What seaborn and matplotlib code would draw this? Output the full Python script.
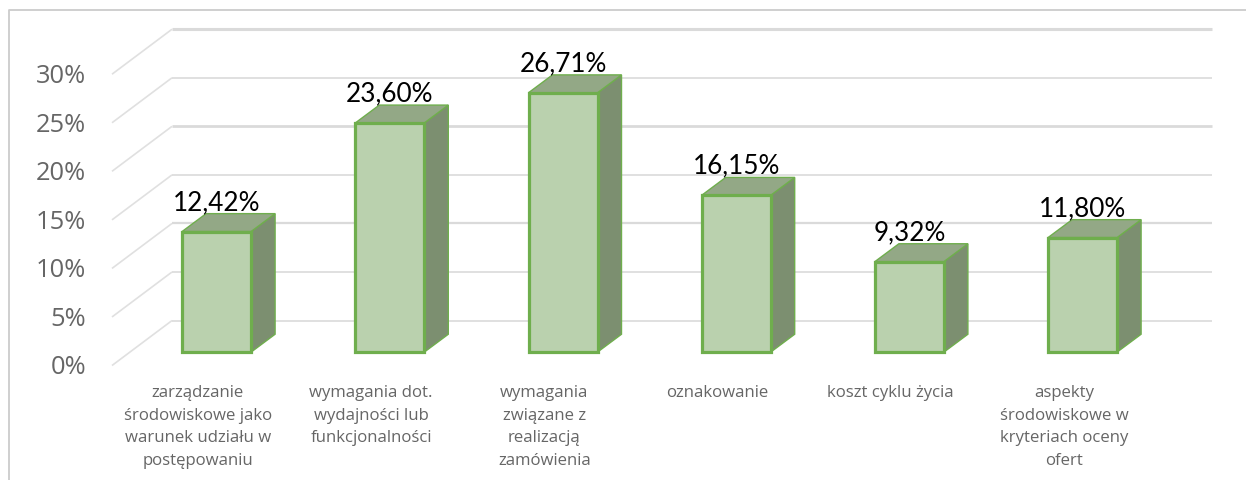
import numpy as np
import pandas as pd
import matplotlib
matplotlib.use("Agg")
import matplotlib.pyplot as plt
from matplotlib.lines import Line2D
import seaborn as sns

categories = [
    "zarządzanie\nśrodowiskowe jako\nwarunek udziału w\npostępowaniu",
    "wymagania dot.\nwydajności lub\nfunkcjonalności",
    "wymagania\nzwiązane z\nrealizacją\nzamówienia",
    "oznakowanie",
    "koszt cyklu życia",
    "aspekty\nśrodowiskowe w\nkryteriach oceny\nofert",
]
values = [12.42, 23.60, 26.71, 16.15, 9.32, 11.80]
value_labels = ["12,42%", "23,60%", "26,71%", "16,15%", "9,32%", "11,80%"]
y_ticks = [0, 5, 10, 15, 20, 25, 30]
y_tick_labels = ["0%", "5%", "10%", "15%", "20%", "25%", "30%"]
grid_widths = [1.2, 1.2, 1.6, 1.2, 2.0, 1.2, 2.2]

sns.set_theme(style="white")
plt.rcParams["font.family"] = ["Open Sans", "DejaVu Sans"]

W, H = 1246, 480
PX_X = 173.2     # pixels per category
PX_Y = 9.78      # pixels per percent
X0, Y0 = 216.6, 354.5   # pixel position of first bar centre / baseline
EDGE = "#6FAE4D"

fig = plt.figure(figsize=(W / 100, H / 100), dpi=100, facecolor="white")
# axes box spans the floor, from the front-left corner to the far right end
left, right, bottom, top = 112, 1212, 368, 20
ax = fig.add_axes([left / W, 1 - bottom / H, (right - left) / W, (bottom - top) / H])
xlim = ((left - X0) / PX_X, (right - X0) / PX_X)
ylim = ((Y0 - bottom) / PX_Y, (Y0 - top) / PX_Y)
ax.patch.set_alpha(0)
for s in ax.spines.values():
    s.set_visible(False)

df = pd.DataFrame({"cat": categories, "val": values})
sns.barplot(data=df, x="cat", y="val", ax=ax, order=categories, width=69 / PX_X,
            color="#BAD1AE", saturation=1, edgecolor=EDGE, linewidth=2.3, zorder=5)
ax.set_xlabel("")
ax.set_ylabel("")
ax.set_xlim(*xlim)
ax.set_ylim(*ylim)

# projection offsets, in data units
bar_dx, bar_dy = 24 / PX_X, 18 / PX_Y
wall_dy = 31.8 / PX_Y
front_dx, front_dy = -18.7 / PX_X, -13.5 / PX_Y
half = 69 / PX_X / 2
corner = xlim[0] + 60 / PX_X

# gridlines: oblique edge on the side wall, then along the back wall
for v, lw in zip(y_ticks, grid_widths):
    ax.add_line(Line2D([xlim[0], corner], [v + front_dy, v + wall_dy], color="#E0E0E0",
                       lw=1.2, zorder=1, solid_capstyle="butt", clip_on=False))
    ax.add_line(Line2D([corner, xlim[1]], [v + wall_dy, v + wall_dy], color="#DADADA",
                       lw=lw, zorder=1, solid_capstyle="butt", clip_on=False))

# bar sides and tops
for i, v in enumerate(values):
    xl, xr = i - half, i + half
    ax.fill([xr, xr + bar_dx, xr + bar_dx, xr], [0, bar_dy, v + bar_dy, v],
            facecolor="#7C8F70", edgecolor=EDGE, lw=1.0, zorder=3, clip_on=False)
    ax.fill([xl, xl + bar_dx, xr + bar_dx, xr], [v, v + bar_dy, v + bar_dy, v],
            facecolor="#93A886", edgecolor=EDGE, lw=1.0, zorder=3, clip_on=False)
    ax.annotate(value_labels[i], (i, v), xytext=(0, 21), textcoords="offset points",
                ha="center", va="center", fontsize=18.8, color="black",
                family=["Lato", "DejaVu Sans"], zorder=6, annotation_clip=False)

# tick labels
ax.set_yticks([v + front_dy - 2.5 / PX_Y for v in y_ticks], y_tick_labels)
ax.set_xticks([i + front_dx for i in range(len(categories))], categories)
ax.tick_params(axis="y", length=0, pad=18.5, labelsize=18.4, labelcolor="#666666")
ax.tick_params(axis="x", length=0, pad=12, labelsize=12.1, labelcolor="#666666")
for lab in ax.get_xticklabels():
    lab.set_linespacing(1.57)
    lab.set_verticalalignment("top")
for lab in ax.get_yticklabels():
    lab.set_verticalalignment("center")

# chart frame
fig.add_artist(Line2D([9 / W, 9 / W, 1], [0, 1 - 9.5 / H, 1 - 9.5 / H],
                      color="#CCCCCC", lw=1.3))

fig.savefig("out.png", dpi=100)
